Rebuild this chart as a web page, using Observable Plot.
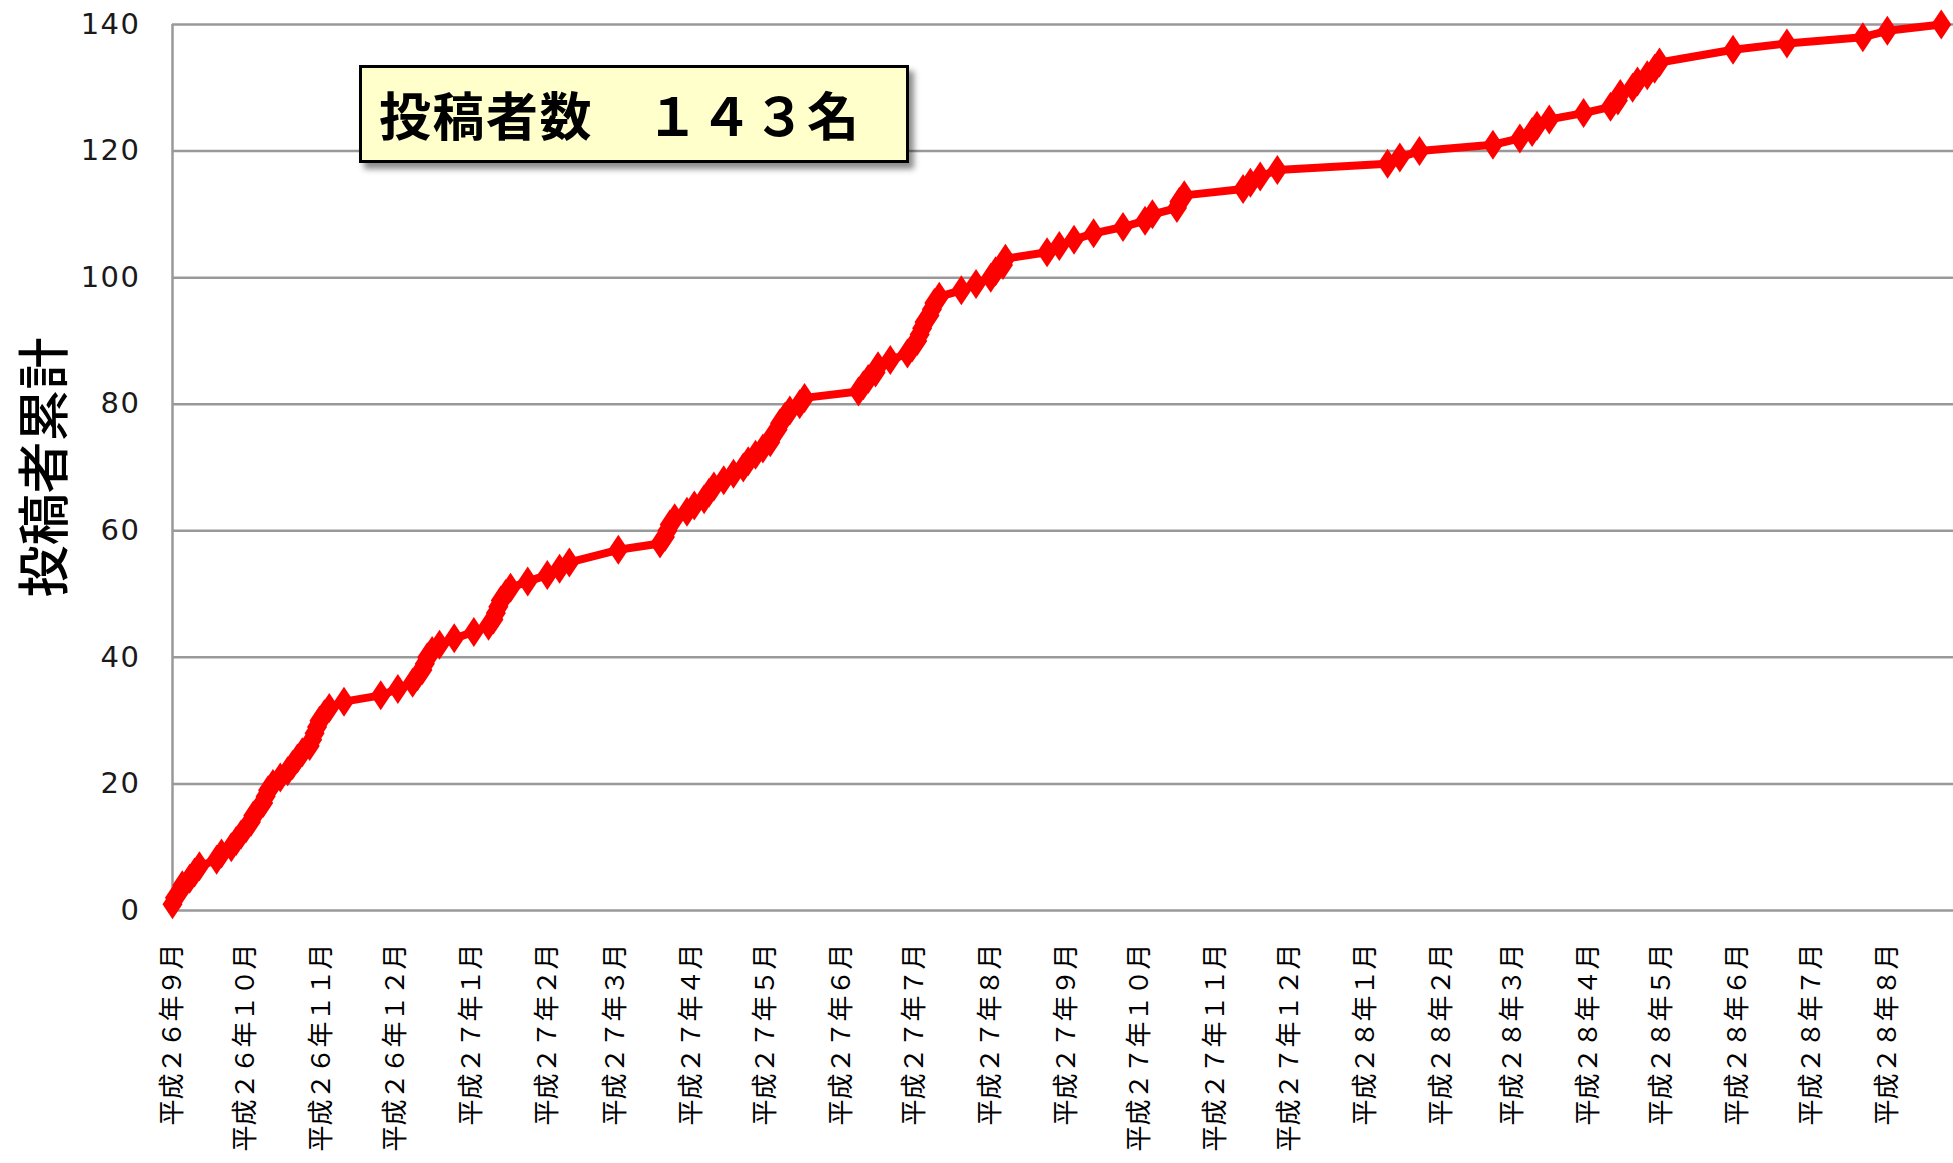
<!DOCTYPE html>
<html><head><meta charset="utf-8">
<script src="https://cdn.jsdelivr.net/npm/d3@7"></script>
<script src="https://cdn.jsdelivr.net/npm/@observablehq/plot@0.6"></script>
<style>
html,body{margin:0;padding:0;background:#fff;}
#wrap{position:relative;width:1953px;height:1163px;overflow:hidden;}
#note{position:absolute;left:359px;top:65px;width:550px;height:98px;box-sizing:border-box;
 border:3px solid #000;background:#ffffcc;box-shadow:5px 6px 6px rgba(0,0,0,0.45);
 font-family:"Noto Sans CJK JP";font-weight:700;font-size:52px;letter-spacing:1.5px;line-height:92px;padding-left:17px;color:#000;white-space:pre;}
#chart g[aria-label="y-axis tick label"] text{letter-spacing:1.5px;}
</style></head>
<body><div id="wrap"><div id="chart"></div><div id="note"></div></div>
<script>
const noteText = "投稿者数　１４３名";
const yLabel = "投稿者累計";
const yTicks = [0, 20, 40, 60, 80, 100, 120, 140];
const monthTicks = ["2014-09-01","2014-10-01","2014-11-01","2014-12-01","2015-01-01","2015-02-01","2015-03-01","2015-04-01","2015-05-01","2015-06-01","2015-07-01","2015-08-01","2015-09-01","2015-10-01","2015-11-01","2015-12-01","2016-01-01","2016-02-01","2016-03-01","2016-04-01","2016-05-01","2016-06-01","2016-07-01","2016-08-01"];
const monthLabels = ["平成２６年９月","平成２６年１０月","平成２６年１１月","平成２６年１２月","平成２７年１月","平成２７年２月","平成２７年３月","平成２７年４月","平成２７年５月","平成２７年６月","平成２７年７月","平成２７年８月","平成２７年９月","平成２７年１０月","平成２７年１１月","平成２７年１２月","平成２８年１月","平成２８年２月","平成２８年３月","平成２８年４月","平成２８年５月","平成２８年６月","平成２８年７月","平成２８年８月"];
const xDomain = ["2014-09-01", "2016-08-28"];
const dates = ["2014-09-01","2014-09-02","2014-09-04","2014-09-05","2014-09-08","2014-09-10","2014-09-12","2014-09-19","2014-09-21","2014-09-25","2014-09-27","2014-09-29","2014-10-01","2014-10-03","2014-10-04","2014-10-06","2014-10-08","2014-10-09","2014-10-10","2014-10-12","2014-10-15","2014-10-18","2014-10-20","2014-10-22","2014-10-24","2014-10-27","2014-10-28","2014-10-29","2014-10-30","2014-10-31","2014-11-02","2014-11-04","2014-11-10","2014-11-25","2014-12-02","2014-12-08","2014-12-10","2014-12-12","2014-12-13","2014-12-14","2014-12-16","2014-12-19","2014-12-25","2015-01-02","2015-01-08","2015-01-10","2015-01-11","2015-01-12","2015-01-13","2015-01-15","2015-01-17","2015-01-24","2015-02-01","2015-02-06","2015-02-10","2015-03-02","2015-03-19","2015-03-21","2015-03-22","2015-03-23","2015-03-25","2015-03-30","2015-04-02","2015-04-06","2015-04-08","2015-04-10","2015-04-14","2015-04-18","2015-04-22","2015-04-24","2015-04-27","2015-04-30","2015-05-03","2015-05-04","2015-05-06","2015-05-07","2015-05-09","2015-05-11","2015-05-15","2015-05-17","2015-06-08","2015-06-10","2015-06-12","2015-06-15","2015-06-16","2015-06-21","2015-06-28","2015-06-30","2015-07-02","2015-07-03","2015-07-04","2015-07-05","2015-07-07","2015-07-08","2015-07-09","2015-07-11","2015-07-20","2015-07-26","2015-08-01","2015-08-03","2015-08-06","2015-08-07","2015-08-24","2015-08-29","2015-09-04","2015-09-12","2015-09-24","2015-10-03","2015-10-06","2015-10-16","2015-10-17","2015-10-19","2015-11-12","2015-11-15","2015-11-19","2015-11-26","2016-01-10","2016-01-15","2016-01-23","2016-02-22","2016-03-04","2016-03-09","2016-03-11","2016-03-16","2016-03-30","2016-04-10","2016-04-13","2016-04-14","2016-04-19","2016-04-21","2016-04-25","2016-04-28","2016-04-30","2016-05-30","2016-06-21","2016-07-22","2016-08-01","2016-08-23"];
const counts = [1,2,3,4,5,6,7,8,9,10,11,12,13,14,15,16,17,18,19,20,21,22,23,24,25,26,27,28,29,30,31,32,33,34,35,36,37,38,39,40,41,42,43,44,45,46,47,48,49,50,51,52,53,54,55,57,58,59,60,61,62,63,64,65,66,67,68,69,70,71,72,73,74,75,76,77,78,79,80,81,82,83,84,85,86,87,88,89,90,91,92,93,94,95,96,97,98,99,100,101,102,103,104,105,106,107,108,109,110,111,112,113,114,115,116,117,118,119,120,121,122,123,124,125,126,127,128,129,130,131,132,133,134,136,137,138,139,140];

const rows = dates.map((d, i) => ({date: new Date(d), count: counts[i]}));
const tickDates = monthTicks.map(d => new Date(d));
const labelByTime = new Map(tickDates.map((d, i) => [+d, monthLabels[i]]));

// tall diamond marker
const tallDiamond = {
  draw(context, size) {
    const r = Math.sqrt(size / Math.PI);
    const h = r * 1.5;
    context.moveTo(0, -h);
    context.lineTo(r, 0);
    context.lineTo(0, h);
    context.lineTo(-r, 0);
    context.closePath();
  }
};

const chart = Plot.plot({
  width: 1953,
  height: 1163,
  marginLeft: 172,
  marginRight: 0,
  marginTop: 24,
  marginBottom: 253,
  style: {background: "#fff", overflow: "visible"},
  x: {type: "utc", domain: xDomain.map(d => new Date(d)), axis: null},
  y: {domain: [0, 140], axis: null},
  marks: [
    Plot.ruleY(yTicks, {stroke: "#999", strokeWidth: 2.5}),
    Plot.ruleX([new Date(xDomain[0])], {stroke: "#999", strokeWidth: 2.5}),
    Plot.axisY(yTicks, {anchor: "left", tickSize: 0, tickPadding: 32, fontSize: 29, fontFamily: "DejaVu Sans", fill: "#1a1a1a", label: null}),
    Plot.axisX(tickDates, {anchor: "bottom", tickSize: 0, tickPadding: 33, tickRotate: -90, fontSize: 26, fontFamily: "Noto Sans CJK JP", fill: "#000", tickFormat: d => labelByTime.get(+d), label: null}),
    Plot.text([yLabel], {frameAnchor: "left", textAnchor: "middle", rotate: -90, dx: -126, fontSize: 52, fontWeight: 500, fontFamily: "Noto Sans CJK JP", fill: "#000"}),
    Plot.line(rows, {x: "date", y: "count", stroke: "#ff0000", strokeWidth: 8}),
    Plot.dot(rows, {x: "date", y: "count", symbol: tallDiamond, r: 10, fill: "#ff0000", stroke: "none"})
  ]
});
document.getElementById("chart").appendChild(chart);
document.getElementById("note").textContent = noteText;
</script>
</body></html>
